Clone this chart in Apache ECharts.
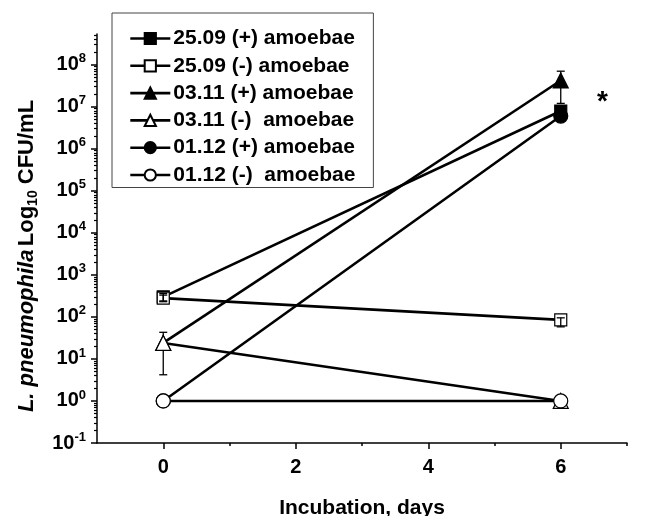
<!DOCTYPE html>
<html>
<head>
<meta charset="utf-8">
<script src="https://cdn.jsdelivr.net/npm/echarts@6/dist/echarts.min.js"></script>
<style>html,body{margin:0;padding:0;background:#fff}#c{width:648px;height:516px}</style>
</head>
<body>
<div id="c"></div>
<script>
// ---- data ----
const days = [0, 6];
const seriesNames = ['25.09 (+) amoebae', '25.09 (-) amoebae', '03.11 (+) amoebae', '03.11 (-)  amoebae', '01.12 (+) amoebae', '01.12 (-)  amoebae'];
const plus2509 = [300, 7.9e6];
const minus2509 = [280, 85];
const plus0311 = [24, 4.2e7];
const minus0311 = [24, 1];
const plus0112 = [1, 6e6];
const minus0112 = [1, 1];
// error bars [day, low, high]
const errPlus2509 = [[0, 240, 360], [6, 6.8e6, 9.2e6]];
const errMinus2509 = [[0, 230, 330], [6, 58, 95]];
const errPlus0311 = [[6, 1.2e7, 7.0e7]];
const errMinus0311 = [[0, 4.2, 43]];
const yMajor = [0.1, 1, 10, 100, 1e3, 1e4, 1e5, 1e6, 1e7, 1e8];
const xLabels = [0, 2, 4, 6];
const xMinor = [1, 3, 5, 7];
const asterisk = [6.6, 1.7e7];
const yTitle = '{i|L. pneumophila} {n|Log}{s|10}{n| CFU/mL}';

// ---- chart ----
const FONT = 'Liberation Sans, Arial, sans-serif';
const yMinor = [];
for (let e = -1; e <= 8; e++) for (let k = 2; k <= 9; k++) { const v = k * Math.pow(10, e); if (v < 5.3e8) yMinor.push(v); }
const YMIN = 0.1, YMAX = Math.pow(10, 8.73);

function pts(arr) { return arr.map((v, i) => [days[i], v]); }
function errSeries(data, z) {
  return {
    type: 'custom', data: data, z: z, silent: true, xAxisIndex: 0, yAxisIndex: 0,
    renderItem: function (params, api) {
      const x = api.value(0);
      const lo = api.coord([x, api.value(1)]);
      const hi = api.coord([x, api.value(2)]);
      const w = 4;
      const st = { stroke: '#000', lineWidth: 1.3 };
      return { type: 'group', children: [
        { type: 'line', shape: { x1: lo[0], y1: lo[1], x2: hi[0], y2: hi[1] }, style: st },
        { type: 'line', shape: { x1: lo[0] - w, y1: lo[1], x2: lo[0] + w, y2: lo[1] }, style: st },
        { type: 'line', shape: { x1: hi[0] - w, y1: hi[1], x2: hi[0] + w, y2: hi[1] }, style: st }
      ] };
    }
  };
}
function lineSeries(name, arr, symbol, size, fill, z) {
  return {
    name: name, type: 'line', data: pts(arr), symbol: symbol, symbolSize: size, showAllSymbol: true,
    z: z, xAxisIndex: 0, yAxisIndex: 0,
    lineStyle: { color: '#000', width: 2.6 },
    itemStyle: { color: fill, borderColor: '#000', borderWidth: 1.2 },
    emphasis: { disabled: true }, animation: false
  };
}
const supRich = {
  a: { fontFamily: FONT, fontWeight: 'bold', fontSize: 20, color: '#000' },
  b: { fontFamily: FONT, fontWeight: 'bold', fontSize: 13, color: '#000', padding: [0, 0, 12, 0] }
};

const chart = echarts.init(document.getElementById('c'), null, { renderer: 'canvas' });
const triPlus = lineSeries(seriesNames[2], plus0311, 'triangle', 15, '#000', 3);
triPlus.markPoint = {
  symbol: 'circle', symbolSize: 0, silent: true,
  label: { show: true, formatter: '*', fontFamily: FONT, fontWeight: 'bold', fontSize: 28, color: '#000', offset: [2, 5] },
  data: [{ coord: asterisk }]
};
chart.setOption({
  animation: false,
  backgroundColor: '#fff',
  grid: { left: 97, right: 21, top: 34, bottom: 73, outerBoundsMode: 'none', containLabel: false },
  graphic: [{
    type: 'text', x: 27, y: 256, rotation: Math.PI / 2, silent: true,
    style: {
      text: yTitle, align: 'center', verticalAlign: 'middle',
      rich: {
        i: { fontFamily: FONT, fontWeight: 'bold', fontStyle: 'italic', fontSize: 22, color: '#000' },
        n: { fontFamily: FONT, fontWeight: 'bold', fontSize: 22, color: '#000' },
        s: { fontFamily: FONT, fontWeight: 'bold', fontSize: 14, color: '#000', padding: [12, 0, 0, 0] }
      }
    }
  }],
  xAxis: [{
    type: 'value', min: -1, max: 7, interval: 1,
    axisLine: { show: true, onZero: false, lineStyle: { color: '#000', width: 1.5 } },
    axisTick: { show: true, customValues: xLabels, length: 6, inside: false, lineStyle: { color: '#000', width: 1.5 } },
    axisLabel: { customValues: xLabels, fontFamily: FONT, fontWeight: 'bold', fontSize: 20, color: '#000', margin: 14 },
    splitLine: { show: false },
    name: 'Incubation, days', nameLocation: 'middle', nameGap: 55,
    nameTextStyle: { fontFamily: FONT, fontWeight: 'bold', fontSize: 21, color: '#000' }
  }, {
    type: 'value', min: -1, max: 7, interval: 1, position: 'bottom',
    axisLine: { show: false, onZero: false },
    axisTick: { show: true, customValues: xMinor, length: 3, lineStyle: { color: '#000', width: 1.5 } },
    axisLabel: { show: false }, splitLine: { show: false }
  }],
  yAxis: [{
    type: 'log', logBase: 10, min: YMIN, max: YMAX,
    axisLine: { show: true, onZero: false, lineStyle: { color: '#000', width: 1.5 } },
    axisTick: { show: true, customValues: yMajor, length: 6, lineStyle: { color: '#000', width: 1.5 } },
    axisLabel: {
      customValues: yMajor, margin: 11,
      formatter: function (v) { return '{a|10}{b|' + Math.round(Math.log10(v)) + '}'; },
      rich: supRich
    },
    splitLine: { show: false }
  }, {
    type: 'log', logBase: 10, min: YMIN, max: YMAX, position: 'left',
    axisLine: { show: false, onZero: false },
    axisTick: { show: true, customValues: yMinor, length: 3, lineStyle: { color: '#000', width: 1.2 } },
    axisLabel: { show: false }, splitLine: { show: false }
  }],
  legend: {
    left: 112, top: 13, orient: 'vertical',
    backgroundColor: '#fff', borderColor: '#444', borderWidth: 1,
    padding: [15, 18, 2, 17],
    itemWidth: 40, itemHeight: 14, itemGap: 6.3,
    lineStyle: { width: 2.6 },
    textStyle: { fontFamily: FONT, fontWeight: 'bold', fontSize: 21, color: '#000', padding: [0, 0, 0, -2] },
    data: seriesNames
  },
  series: [
    errSeries(errMinus0311, 1),
    errSeries(errPlus0311, 1),
    lineSeries(seriesNames[4], plus0112, 'circle', 14, '#000', 2),
    lineSeries(seriesNames[5], minus0112, 'circle', 14, '#fff', 5),
    triPlus,
    lineSeries(seriesNames[3], minus0311, 'triangle', 15, '#fff', 4),
    lineSeries(seriesNames[0], plus2509, 'rect', 12, '#000', 6),
    lineSeries(seriesNames[1], minus2509, 'rect', 12, '#fff', 6),
    errSeries(errPlus2509, 8),
    errSeries(errMinus2509, 8)
  ]
});
</script>
</body>
</html>
